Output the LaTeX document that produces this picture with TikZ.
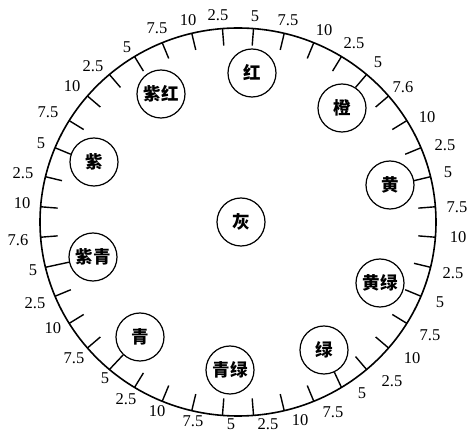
\documentclass[tikz,border=0pt]{standalone}
\usepackage{fontspec}
\setmainfont{Liberation Serif}
\newfontfamily\cjk{Noto Sans CJK SC}
\begin{document}
\begin{tikzpicture}[x=1pt,y=-1pt,
  hue/.style={draw,circle,line width=1.2pt,minimum size=48pt,inner sep=0pt,
    font=\cjk\bfseries\fontsize{17.5}{17.5}\selectfont},
  num/.style={font=\fontsize{16.5}{16.5}\selectfont,inner sep=0pt},
  tickln/.style={line width=1.4pt},
  rim/.style={line width=1.6pt}]
\useasboundingbox (0,0) rectangle (467,433);
% outer rim
\draw[rim] (238,222) ellipse [x radius=198, y radius=194];
% tick coordinates
\foreach \i in {0,...,39}{
  \pgfmathsetmacro\a{94.5-9*\i}
  \coordinate (o\i) at ({238+198*cos(\a)},{222-194*sin(\a)});
  \coordinate (n\i) at ({238+181*cos(\a)},{222-177*sin(\a)});
}
% hue circles
\node[hue] (hR)  at (252,73)  {红};
\node[hue] (hO)  at (342,108) {橙};
\node[hue] (hY)  at (390,185) {黄};
\node[hue] (hYG) at (380,283) {黄绿};
\node[hue] (hG)  at (324,350) {绿};
\node[hue] (hBG) at (230,370) {青绿};
\node[hue] (hB)  at (140,337) {青};
\node[hue] (hPB) at (93,257)  {紫青};
\node[hue] (hP)  at (94,162)  {紫};
\node[hue] (hRP) at (161,94)  {紫红};
\node[hue] (hN)  at (241,222) {灰};
% ticks
\foreach \i in {0,...,39}{
  \ifnum\i=17 \else\ifnum\i=25 \else\ifnum\i=29 \else
    \draw[tickln] (o\i) -- (n\i);
  \fi\fi\fi
}
\draw[tickln] (o17) -- (hG);
\draw[tickln] (o25) -- (hB);
\draw[tickln] (o29) -- (hPB);
% scale labels
\foreach \x/\y/\t [count=\k] in {218/15/2.5, 255/16/5, 288/20/7.5, 324/30/10,
  354/43/2.5, 378/62/5, 403/87/7.6, 427/117/10, 445/145/2.5, 448/172/5,
  457/207/7.5, 458/237/10, 453/273/2.5, 440/302/5, 430/335/7.5, 412/358/10,
  392/381/2.5, 362/393/5, 333/412/7.5, 300/420/10, 268/424/2.5, 231/424/5,
  193/421/7.5, 157/411/10, 126/399/2.5, 105/378/5, 74/358/7.5, 53/328/10,
  35/303/2.5, 33/270/5, 18/240/7.6, 22/203/10, 23/173/2.5, 41/143/5,
  48/112/7.5, 72/86/10, 93/66/2.5, 127/47/5, 157/28/7.5, 188/20/10}
  \node[num] (lab\k) at (\x,\y) {\t};
\end{tikzpicture}
\end{document}
